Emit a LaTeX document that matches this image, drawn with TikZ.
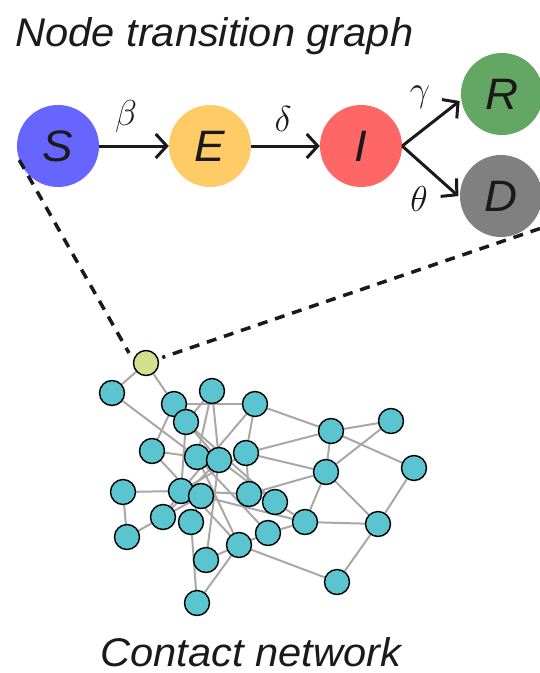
\RequirePackage{fix-cm}
\documentclass[tikz,border=0pt]{standalone}
\usepackage{fontspec}
\newfontfamily\figfont[FakeStretch=1.04]{Liberation Sans}
\usetikzlibrary{arrows.meta,backgrounds}

\definecolor{sblue}{RGB}{102,102,255}
\definecolor{eorange}{RGB}{255,203,102}
\definecolor{ired}{RGB}{255,102,102}
\definecolor{rgreen}{RGB}{100,166,100}
\definecolor{dgray}{RGB}{128,128,128}
\definecolor{netcyan}{RGB}{91,197,207}
\definecolor{seedyellow}{RGB}{213,224,142}
\definecolor{edgegray}{RGB}{168,168,168}
\definecolor{ink}{RGB}{26,26,26}

\tikzset{
  state/.style={circle, minimum size=82pt, inner sep=0pt,
    font=\figfont\itshape\fontsize{44}{44}\selectfont, text=ink},
  trans/.style={line width=3pt, draw=ink,
    -{Straight Barb[length=11pt,width=24pt,line width=3pt]}},
  rate/.style={font=\fontsize{36}{36}\selectfont, text=ink},
  heading/.style={anchor=base west, font=\figfont\itshape\fontsize{40}{40}\selectfont, text=ink},
  member/.style={circle, draw=black, line width=1.4pt, fill=netcyan,
    minimum size=25pt, inner sep=0pt},
  seed/.style={member, fill=seedyellow},
  link/.style={draw=edgegray, line width=2pt},
  zoomline/.style={draw=ink, line width=3.5pt, dash pattern=on 10pt off 8pt}
}

\begin{document}
\begin{tikzpicture}[x=1pt,y=-1pt]
\useasboundingbox (0,0) rectangle (539,673);

% ---- compartment model ----
\node[heading] (title) at (12,46) {Node transition graph};

\node[state, fill=sblue]   (S) at (58,146)  {S};
\node[state, fill=eorange] (E) at (210,146) {E};
\node[state, fill=ired]    (I) at (361,146) {I};
\node[state, fill=rgreen]  (R) at (502,94)  {R};
\node[state, fill=dgray]   (D) at (501,196) {D};

\draw[trans] (S) -- (E);
\draw[trans] (E) -- (I);
\draw[trans, shorten >=2pt] (I.east) -- (R.188);
\draw[trans, shorten >=2pt] (I.east) -- (D.182);

\node[rate] (lb) at (126,116) {$\beta$};
\node[rate] (ld) at (283,119) {$\delta$};
\node[rate] (lg) at (420,97)  {$\gamma$};
\node[rate] (lt) at (419,199) {$\theta$};

% ---- contact network ----
\node[seed] (y0) at (146,363) {};
\foreach \n/\x/\y in {
  a1/112/393, c1/174/404, d1/186/422, b1/212/391, f1/255/404,
  g1/331/431, h1/391/421, i1/152/451, j1/197/457, k1/219/460,
  l1/246/453, m1/326/472, n1/414/468, o1/123/492, p1/181/491,
  q1/201/496, r1/249/494, s1/275/502, t1/305/522, u1/378/524,
  v1/268/533, w1/239/545, x1/337/582, y1/163/517, z1/191/522,
  a2/127/537, b2/206/560, c2/197/603}
  \node[member] (\n) at (\x,\y) {};

\begin{scope}[on background layer]
\foreach \u/\v in {
  y0/a1, y0/c1, a1/j1, c1/f1, c1/i1, d1/p1, d1/k1, d1/s1,
  b1/j1, b1/k1, b1/d1, f1/g1, f1/l1, f1/p1, g1/h1, g1/n1,
  g1/l1, g1/m1, h1/m1, l1/m1, l1/r1, l1/p1, r1/m1, m1/t1,
  m1/u1, n1/u1, u1/x1, t1/u1, s1/t1, r1/s1, v1/t1, q1/t1,
  w1/x1, w1/v1, w1/i1, w1/j1, w1/b2, w1/c2, b2/k1, z1/c2,
  o1/a2, a2/y1, o1/p1, y1/q1, y1/p1, i1/j1, j1/v1, p1/r1,
  k1/y1, z1/q1, k1/s1}
  \draw[link] (\u) -- (\v);
\end{scope}

% ---- zoom lines from the model to one network node ----
\coordinate (zoomL) at (129,353);
\coordinate (zoomR) at (540,228.5);
\draw[zoomline] (S.200) -- (zoomL);
\draw[zoomline, shorten >=4pt] (zoomR) -- (y0);

\node[heading] (caption) at (97,666) {Contact network};
\end{tikzpicture}
\end{document}
